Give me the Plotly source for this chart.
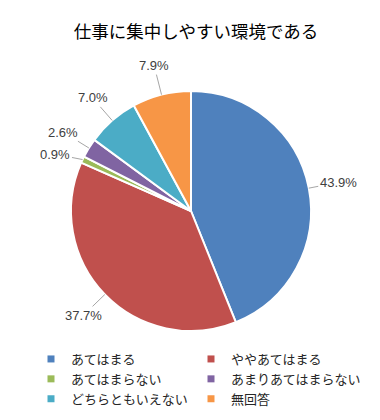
import math
import plotly.graph_objects as go

title = "仕事に集中しやすい環境である"
labels = ["あてはまる", "ややあてはまる", "あてはまらない", "あまりあてはまらない", "どちらともいえない", "無回答"]
values = [43.9, 37.7, 0.9, 2.6, 7.0, 7.9]
colors = ["#4F81BD", "#C0504D", "#9BBB59", "#8064A2", "#4BACC6", "#F79646"]

W, H = 380, 420
CX, CY, R = 191, 211, 120
LR = 150          # label radius (px)
MIN_GAP = 22      # min vertical gap between labels on the same side
FONT = "Noto Sans CJK JP, Noto Sans, sans-serif"

fig = go.Figure()
fig.add_trace(go.Pie(
    labels=labels, values=values, sort=False, direction="clockwise", rotation=0,
    marker=dict(colors=colors, line=dict(color="white", width=2)),
    textinfo="none", hoverinfo="label+percent", showlegend=False,
    domain=dict(x=[(CX - R) / W, (CX + R) / W], y=[1 - (CY + R) / H, 1 - (CY - R) / H]),
))
# legend: two columns, filled row by row
for i, (lab, col) in enumerate(zip(labels, colors)):
    fig.add_trace(go.Scatter(x=[None], y=[None], mode="markers", name=lab,
                             marker=dict(symbol="square", size=7, color=col),
                             hoverinfo="skip", showlegend=True,
                             legend="legend" if i % 2 == 0 else "legend2"))

# label geometry derived from the data
total = sum(values)
cum = 0
items = []
for v in values:
    mid = (cum + v / 2) / total
    cum += v
    th = 2 * math.pi * mid
    s, c = math.sin(th), math.cos(th)
    items.append(dict(v=v, s=s, c=c,
                      px=CX + R * s, py=CY - R * c,
                      tx=CX + LR * s, ty=CY - LR * c))

# push overlapping labels downward on each side
for side in (1, -1):
    grp = sorted([it for it in items if (it["s"] >= 0) == (side == 1)], key=lambda d: d["ty"])
    for a, b in zip(grp, grp[1:]):
        if b["ty"] - a["ty"] < MIN_GAP:
            b["ty"] = a["ty"] + MIN_GAP

annotations = []
for it in items:
    annotations.append(dict(
        x=it["px"] / W, y=1 - it["py"] / H, xref="paper", yref="paper",
        text=f"{it['v']:.1f}%", showarrow=True, arrowhead=0, arrowwidth=1, arrowcolor="#A6A6A6",
        ax=it["tx"] - it["px"], ay=it["ty"] - it["py"], standoff=0,
        font=dict(size=13, color="#404040", family="Arial, Liberation Sans, sans-serif"),
    ))

leg_common = dict(orientation="v", yanchor="top", xanchor="left", bgcolor="rgba(0,0,0,0)",
                  font=dict(size=13, color="#262626", family=FONT), itemclick=False,
                  itemdoubleclick=False, tracegroupgap=0)

fig.update_layout(
    width=W, height=H, margin=dict(l=0, r=0, t=0, b=0, autoexpand=False),
    paper_bgcolor="white", plot_bgcolor="white",
    xaxis=dict(visible=False), yaxis=dict(visible=False),
    title=dict(text=title, x=196 / W, xanchor="center", y=1 - 32 / H, yanchor="middle",
               font=dict(size=17.5, color="#000000", family=FONT)),
    annotations=annotations,
    showlegend=True,
    legend=dict(x=31 / W, y=1 - 344 / H, **leg_common),
    legend2=dict(x=191 / W, y=1 - 344 / H, **leg_common),
)
fig.write_html("out.html", post_script="document.body.style.margin='0';",
               config={"displayModeBar": False})
